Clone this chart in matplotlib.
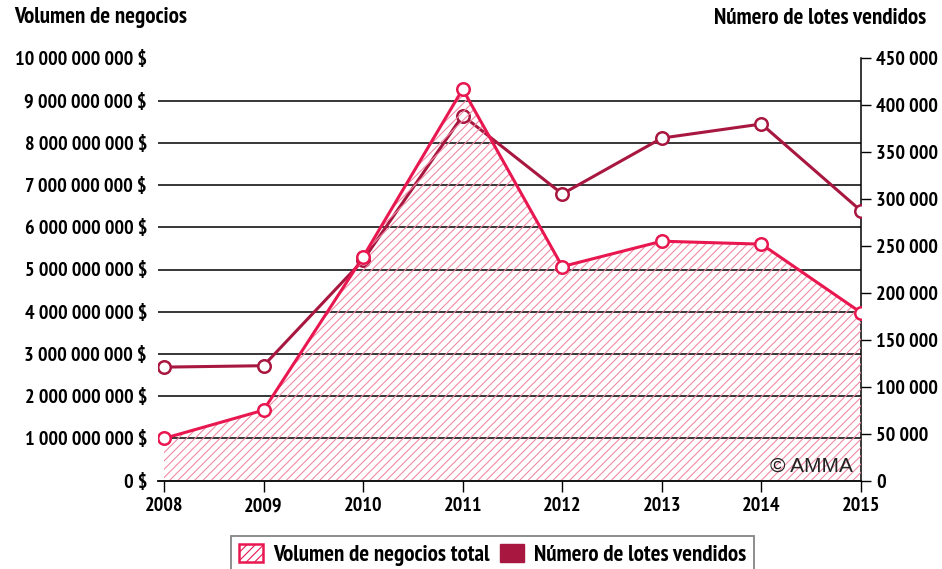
import numpy as np
import matplotlib
matplotlib.use("Agg")
import matplotlib.pyplot as plt
from matplotlib.ticker import MultipleLocator, FuncFormatter
from matplotlib.patches import Patch

years = [2008, 2009, 2010, 2011, 2012, 2013, 2014, 2015]
volumen = [1.0e9, 1.67e9, 5.30e9, 9.27e9, 5.07e9, 5.67e9, 5.60e9, 3.98e9]
lotes = [121000, 122500, 235000, 389000, 305500, 365000, 380000, 287500]

pink = "#e8174f"
dark = "#a8173f"

plt.rcParams["font.family"] = ["PT Sans Narrow", "Roboto Condensed", "DejaVu Sans"]
plt.rcParams["font.weight"] = "bold"
plt.rcParams["hatch.linewidth"] = 0.8
fs = 14.5   # tick labels
fs_t = 16.5  # titles and legend


def sep(v, pos):
    return "{:,}".format(int(round(v))).replace(",", " ")


fig = plt.figure(figsize=(9.42, 5.69), dpi=100)
ax = fig.add_axes([158 / 942, 88.3 / 569, 703 / 942, 422.4 / 569])
ax2 = ax.twinx()
ax.set_zorder(ax2.get_zorder() + 1)
ax.patch.set_visible(False)

# right axis (lots) - grid lines follow the left axis steps
ax2.plot(years, lotes, color=dark, lw=2.2, marker="o", ms=9, mfc="white",
         mec=dark, mew=1.8, zorder=3)
ax2.set_ylim(0, 450000)
ax2.yaxis.set_major_locator(MultipleLocator(50000))
ax2.yaxis.set_major_formatter(FuncFormatter(sep))
ax2.yaxis.set_minor_locator(MultipleLocator(45000))
ax2.grid(which="minor", axis="y", color="black", lw=1.1)
ax2.tick_params(axis="y", which="major", length=7, width=1, pad=4, labelsize=fs)
ax2.tick_params(axis="y", which="minor", length=0)
for s in ["top", "left", "bottom"]:
    ax2.spines[s].set_visible(False)
ax2.spines["right"].set_linewidth(1.1)

# left axis (volume)
ax.fill_between(years, volumen, 0, facecolor="none", edgecolor="#f08aa5",
                hatch="////", lw=0, zorder=1)
ax.plot(years, volumen, color=pink, lw=2.2, marker="o", ms=9, mfc="white",
        mec=pink, mew=1.8, zorder=4)
ax.set_ylim(0, 1e10)
ax.set_xlim(2007.94, 2015.0)
ax.yaxis.set_major_locator(MultipleLocator(1e9))
ax.yaxis.set_major_formatter(FuncFormatter(lambda v, p: sep(v, p) + " $"))
ax.set_xticks(years)
ax.tick_params(axis="y", length=0, pad=8, labelsize=fs)
ax.tick_params(axis="x", length=8, width=1, pad=4, labelsize=fs)
for s in ["top", "left", "right"]:
    ax.spines[s].set_visible(False)
ax.spines["bottom"].set_linewidth(1.3)

ax.text(0.988, 0.012, "© AMMA", transform=ax.transAxes, ha="right", va="bottom",
        fontsize=15, fontweight="normal", color="#222222",
        family=["Liberation Sans", "DejaVu Sans"])

fig.text(14 / 942, 1 - 18 / 569, "Volumen de negocios", ha="left", va="center",
         fontsize=fs_t)
fig.text(926 / 942, 1 - 18 / 569, "Número de lotes vendidos", ha="right",
         va="center", fontsize=fs_t)

handles = [
    Patch(facecolor="white", edgecolor=pink, hatch="////", lw=1.8,
          label="Volumen de negocios total"),
    Patch(facecolor=dark, edgecolor=dark, label="Número de lotes vendidos"),
]
leg = fig.legend(handles=handles, loc="upper center", ncol=2,
                 bbox_to_anchor=(492.5 / 942, 1 - 536 / 569), fontsize=fs_t,
                 frameon=True, fancybox=False, edgecolor="#666666",
                 handlelength=1.05, handleheight=0.8, columnspacing=0.45,
                 borderpad=0.35, handletextpad=0.45, borderaxespad=0)
leg.get_frame().set_linewidth(1.3)

fig.savefig("out.png", dpi=100)
